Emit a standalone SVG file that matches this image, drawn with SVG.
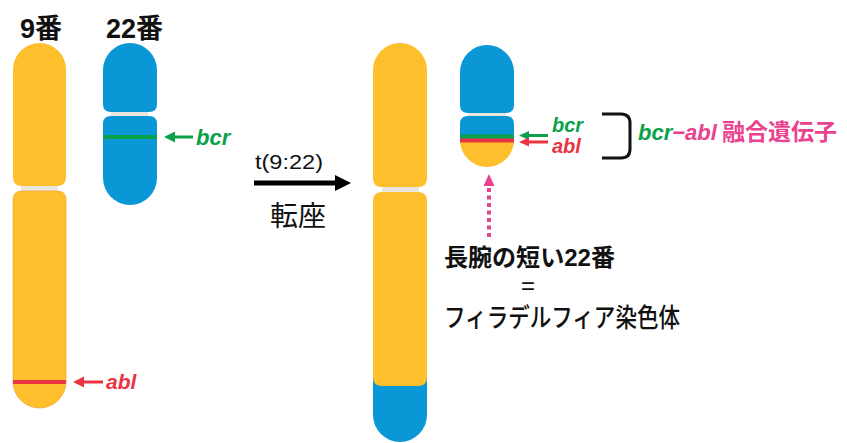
<svg xmlns="http://www.w3.org/2000/svg" width="847" height="443" viewBox="0 0 847 443">
  <defs>
    <style>
      .yel { fill: #FDBF2B; }
      .blu { fill: #0A97D6; }
      .cen { fill: #E9E6DE; }
      .grn { fill: #0BA14B; }
      .red { fill: #EC3441; }
      .pnk { fill: #E9428E; }
      .jp  { font-family: "Liberation Sans", "Noto Sans CJK JP", sans-serif; fill: #111; }
      .gene { font-family: "Liberation Sans", "Noto Sans CJK JP", sans-serif; font-style: italic; font-weight: bold; }
    </style>
  </defs>

  <!-- chromosome 9 -->
  <g id="chr9">
    <rect class="cen" x="21" y="184" width="37" height="10"/>
    <path class="yel" d="M13 69.5 A26.5 26.5 0 0 1 66 69.5 L66 177 Q66 186 57 186 L22 186 Q13 186 13 177 Z"/>
    <path class="yel" d="M13 200 Q13 191 22 191 L57 191 Q66 191 66 200 L66 381.5 A26.5 26.5 0 0 1 13 381.5 Z" stroke="#F3A93A" stroke-width="0.8"/>
    <rect class="red" x="13" y="380" width="53" height="4"/>
  </g>

  <!-- chromosome 22 -->
  <g id="chr22">
    <rect class="cen" x="111" y="110" width="37" height="9"/>
    <path class="blu" d="M103 70 A27 27 0 0 1 157 70 L157 104 Q157 112 149 112 L111 112 Q103 112 103 104 Z"/>
    <path class="blu" d="M103 124 Q103 116 111 116 L149 116 Q157 116 157 124 L157 178 A27 27 0 0 1 103 178 Z"/>
    <rect class="grn" x="103" y="135" width="54" height="4"/>
  </g>

  <!-- derivative chromosome 9 -->
  <g id="der9">
    <rect class="cen" x="382" y="185" width="37" height="9"/>
    <path class="yel" d="M373 70 A27 27 0 0 1 427 70 L427 178 Q427 187 418 187 L382 187 Q373 187 373 178 Z"/>
    <path class="blu" d="M373 372 L427 372 L427 415 A27 27 0 0 1 373 415 Z"/>
    <path class="yel" d="M373 201 Q373 192 382 192 L418 192 Q427 192 427 201 L427 377 Q427 386 418 386 L382 386 Q373 386 373 377 Z"/>
  </g>

  <!-- Philadelphia chromosome -->
  <g id="der22">
    <rect class="cen" x="468" y="111" width="38" height="8"/>
    <path class="blu" d="M460 72 A27 27 0 0 1 514 72 L514 105 Q514 113 506 113 L468 113 Q460 113 460 105 Z"/>
    <path class="blu" d="M460 124 Q460 116 468 116 L506 116 Q514 116 514 124 L514 140 L460 140 Z"/>
    <path class="yel" d="M460 140 L514 140 A27 27 0 0 1 460 140 Z"/>
    <rect class="grn" x="460" y="134.5" width="54" height="4"/>
    <rect class="red" x="460" y="138.5" width="54" height="4"/>
  </g>

  <!-- chromosome labels -->
  <g id="labels">
    <text class="jp" x="20" y="38" font-size="27" font-weight="bold">9番</text>
    <text class="jp" x="106" y="38" font-size="27" font-weight="bold">22番</text>
  </g>

  <!-- gene labels -->
  <g id="gene-bcr">
    <text class="gene grn" x="196" y="145" font-size="22">bcr</text>
  </g>
  <g id="gene-abl">
    <text class="gene red" x="106" y="389" font-size="21">abl</text>
  </g>
  <g id="fusion-labels">
    <text class="gene grn" x="552" y="132" font-size="20">bcr</text>
    <text class="gene red" x="552" y="153" font-size="20">abl</text>
  </g>
  <g id="fusion-gene">
    <path d="M602 114 L621 114 Q630 114 630 123 L630 149 Q630 158 621 158 L602 158" fill="none" stroke="#111" stroke-width="3"/>
    <text x="638" y="140" font-size="22"><tspan class="gene grn">bcr</tspan><tspan class="gene pnk">−abl</tspan><tspan class="pnk" font-family="'Noto Sans CJK JP', sans-serif" font-weight="bold" font-size="23" dx="5">融合遺伝子</tspan></text>
  </g>

  <!-- translocation label -->
  <g id="translocation">
    <text class="jp" x="255" y="169" font-size="21" textLength="68" lengthAdjust="spacingAndGlyphs">t(9:22)</text>
    <text class="jp" x="270" y="226" font-size="28">転座</text>
  </g>

  <!-- Philadelphia chromosome caption -->
  <g id="caption">
    <text class="jp" x="444" y="266" font-size="24" font-weight="bold" textLength="171" lengthAdjust="spacingAndGlyphs">長腕の短い22番</text>
    <text class="jp" x="528" y="294" font-size="24" text-anchor="middle">=</text>
    <text class="jp" x="444" y="327" font-size="26" font-weight="500" textLength="236" lengthAdjust="spacingAndGlyphs">フィラデルフィア染色体</text>
  </g>

  <!-- connectors -->
  <g id="connectors">
    <!-- bcr pointer -->
    <line x1="193" y1="137" x2="172" y2="137" stroke="#0BA14B" stroke-width="3"/>
    <polygon class="grn" points="164,137 175,131.5 175,142.5"/>
    <!-- abl pointer -->
    <line x1="103" y1="382" x2="81" y2="382" stroke="#EC3441" stroke-width="3"/>
    <polygon class="red" points="73,382 84,376.5 84,387.5"/>
    <!-- fusion pointers -->
    <line x1="548" y1="135.5" x2="527" y2="135.5" stroke="#0BA14B" stroke-width="3"/>
    <polygon class="grn" points="519,135.5 529,131 529,140"/>
    <line x1="548" y1="142" x2="527" y2="142" stroke="#EC3441" stroke-width="3"/>
    <polygon class="red" points="519,142 529,137.5 529,146.5"/>
    <!-- translocation arrow -->
    <line x1="254" y1="183" x2="337" y2="183" stroke="#000" stroke-width="5"/>
    <polygon points="351,183 335,175 335,191" fill="#000"/>
    <!-- dotted pointer to the Philadelphia chromosome -->
    <line x1="489" y1="237" x2="489" y2="186" stroke="#E9428E" stroke-width="4" stroke-dasharray="4 3.5"/>
    <polygon class="pnk" points="489,174 483.5,186 494.5,186"/>
  </g>
</svg>
